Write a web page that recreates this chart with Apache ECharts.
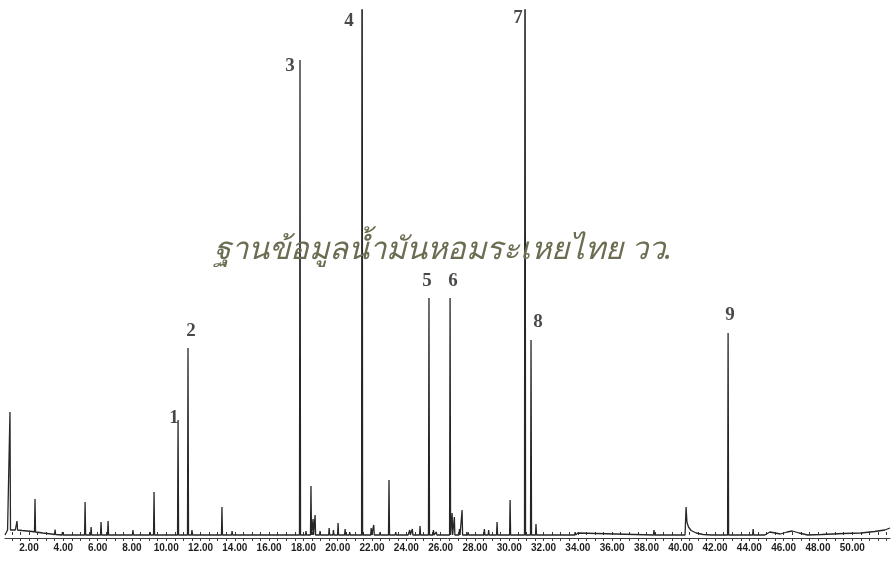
<!DOCTYPE html>
<html>
<head>
<meta charset="utf-8">
<script src="https://cdn.jsdelivr.net/npm/echarts@6/dist/echarts.min.js"></script>
<style>
  html, body { margin: 0; padding: 0; background: #ffffff; }
  #chart { width: 894px; height: 561px; }
</style>
</head>
<body>
<div id="chart"></div>
<script>
// Retention times (min) of the sharp peaks, their heights above the baseline,
// and the baseline level they stand on.
const peakTimes = [0.89, 1.30, 2.35, 3.52, 3.95, 5.27, 5.62, 6.20, 6.61, 8.06, 9.06, 9.29, 9.80,
  10.69, 11.27, 11.50, 13.25, 13.84, 15.40, 16.10, 17.80, 18.15, 18.44, 18.56, 18.68, 18.97,
  19.50, 19.75, 20.02, 20.43, 20.70, 21.42, 21.95, 22.10, 22.47, 22.75, 22.99, 23.38, 24.20,
  24.35, 24.80, 25.32, 25.58, 25.75, 26.55, 26.67, 26.80, 27.10, 27.25, 27.60, 28.55, 28.80,
  29.29, 30.05, 30.92, 31.27, 31.56, 32.55, 33.84, 34.00, 38.44, 42.76, 44.22];
const peakHeights = [118, 9, 33, 5, 3, 33, 8, 13, 14, 5, 3, 43, 2,
  115, 187, 5, 28, 4, 2, 2, 475, 4, 49, 16, 20, 4,
  7, 5, 12, 6, 3, 760, 7, 10, 3, 2, 55, 3, 5,
  6, 9, 237, 5, 3, 237, 22, 18, 6, 25, 3, 6, 5,
  13, 35, 740, 195, 11, 2, 3, 2, 5, 202, 6];
const peakBases = [5, 5, 3, 0.5, 0, 0, 0, 0, 0, 0, 0, 0, 0,
  0, 0, 0, 0, 0, 0, 0, 0, 0, 0, 0, 0, 0,
  0, 0, 0, 0, 0, 0, 0, 0, 0, 0, 0, 0, 0,
  0, 0, 0, 0, 0, 0, 0, 0, 0, 0, 0, 0, 0,
  0, 0, 0, 0, 0, 0, 0, 0, 0, 0, 0];

// Slow parts of the trace: solvent drift, the tailing peak near 40 min and the late baseline rise.
const baselineTrace = [[0.6, 0], [0.75, 5], [1.2, 5], [1.6, 4.5], [2.2, 3.5], [2.8, 2], [3.3, 1],
  [4.2, 0], [24.1, 0], [24.3, 2], [24.5, 0], [40.25, 0], [40.31, 28], [40.36, 13], [40.45, 8],
  [40.6, 4.5], [40.9, 2], [41.3, 0.5], [41.8, 0], [44.9, 0], [45.2, 3], [45.5, 2], [45.8, 1],
  [46.2, 3], [46.5, 4], [46.9, 2], [47.4, 0], [48.2, 0.5], [49.5, 1.5], [50.5, 2], [51.3, 3.5],
  [51.9, 5], [52.2, 7]];

// Numbered components and the peaks they mark.
const peakNumbers = ['1', '2', '3', '4', '5', '6', '7', '8', '9'];
const numberedTimes = [10.69, 11.27, 17.80, 21.42, 25.32, 26.55, 30.92, 31.27, 42.76];

// Axis labels (min).
const labelTimes = [2, 4, 6, 8, 10, 12, 14, 16, 18, 20, 22, 24, 26, 28, 30, 32, 34, 36, 38, 40, 42, 44, 46, 48, 50];

const watermark = 'ฐานข้อมูลน้ำมันหอมระเหยไทย วว.';

const X_MIN = 0.6, X_MAX = 52.2, Y_MIN = -3, Y_MAX = 525;
const HALF_WIDTH = 0.03;

// Label placement (px from the peak apex) for each numbered peak.
const labelOffsets = [[-4, -2], [3, -17], [-10, 6], [-13, 11], [-2, -17], [3, -17], [-7, 8], [7, -18], [2, -18]];

// Assemble the trace: each sharp peak is a narrow spike on its base level.
const points = baselineTrace.map(p => p.slice());
peakTimes.forEach((t, i) => {
  const b = peakBases[i];
  points.push([t - HALF_WIDTH, b], [t, b + peakHeights[i]], [t + HALF_WIDTH, b]);
});
points.sort((a, b) => a[0] - b[0]);

const labelData = numberedTimes.map((t, i) => {
  const idx = peakTimes.indexOf(t);
  const top = Math.min(peakBases[idx] + peakHeights[idx], Y_MAX);
  return {
    value: [t, top],
    label: { offset: labelOffsets[i] }
  };
});

const ticks = [];
for (let v = 1; v <= 52; v += 0.5) ticks.push(v);

const axisCommon = {
  type: 'value',
  min: X_MIN,
  max: X_MAX,
  splitLine: { show: false }
};

const chart = echarts.init(document.getElementById('chart'), null, { renderer: 'canvas' });
chart.setOption({
  animation: false,
  backgroundColor: '#ffffff',
  grid: { left: 5, right: 4, top: 10, bottom: 23 },
  xAxis: [
    Object.assign({}, axisCommon, {
      axisLine: { show: true, onZero: false, lineStyle: { color: '#3a3a3a', width: 1 } },
      axisTick: { show: true, customValues: ticks, length: 3, lineStyle: { color: '#3a3a3a', width: 1 } },
      axisLabel: {
        customValues: labelTimes,
        formatter: v => v.toFixed(2),
        fontFamily: '"Liberation Sans", Arial, sans-serif',
        fontSize: 10,
        fontWeight: 'bold',
        color: '#1e1e1e',
        margin: 5
      }
    }),
    Object.assign({}, axisCommon, {
      position: 'bottom',
      axisLine: { show: false },
      axisTick: { show: true, inside: true, customValues: ticks, length: 3, lineStyle: { color: '#3a3a3a', width: 1 } },
      axisLabel: { show: false }
    })
  ],
  yAxis: { type: 'value', min: Y_MIN, max: Y_MAX, show: false },
  graphic: [{
    type: 'text',
    x: 443,
    y: 250,
    z: 100,
    style: {
      text: watermark,
      font: 'italic 31px "Noto Sans", "DejaVu Sans", sans-serif',
      fill: '#6c6c52',
      align: 'center',
      verticalAlign: 'middle',
      shadowColor: 'rgba(0,0,0,0.35)',
      shadowBlur: 2,
      shadowOffsetX: 2,
      shadowOffsetY: 2
    }
  }],
  series: [
    {
      type: 'line',
      data: points,
      showSymbol: false,
      clip: true,
      lineStyle: { color: '#262626', width: 1.3, join: 'bevel' },
      z: 2
    },
    {
      type: 'scatter',
      data: labelData,
      symbolSize: 0,
      silent: true,
      label: {
        show: true,
        position: 'inside',
        formatter: p => peakNumbers[p.dataIndex],
        fontFamily: '"Liberation Serif", "Times New Roman", serif',
        fontWeight: 'bold',
        fontSize: 19,
        color: '#1a1a1a'
      },
      z: 3
    }
  ]
});
</script>
</body>
</html>
